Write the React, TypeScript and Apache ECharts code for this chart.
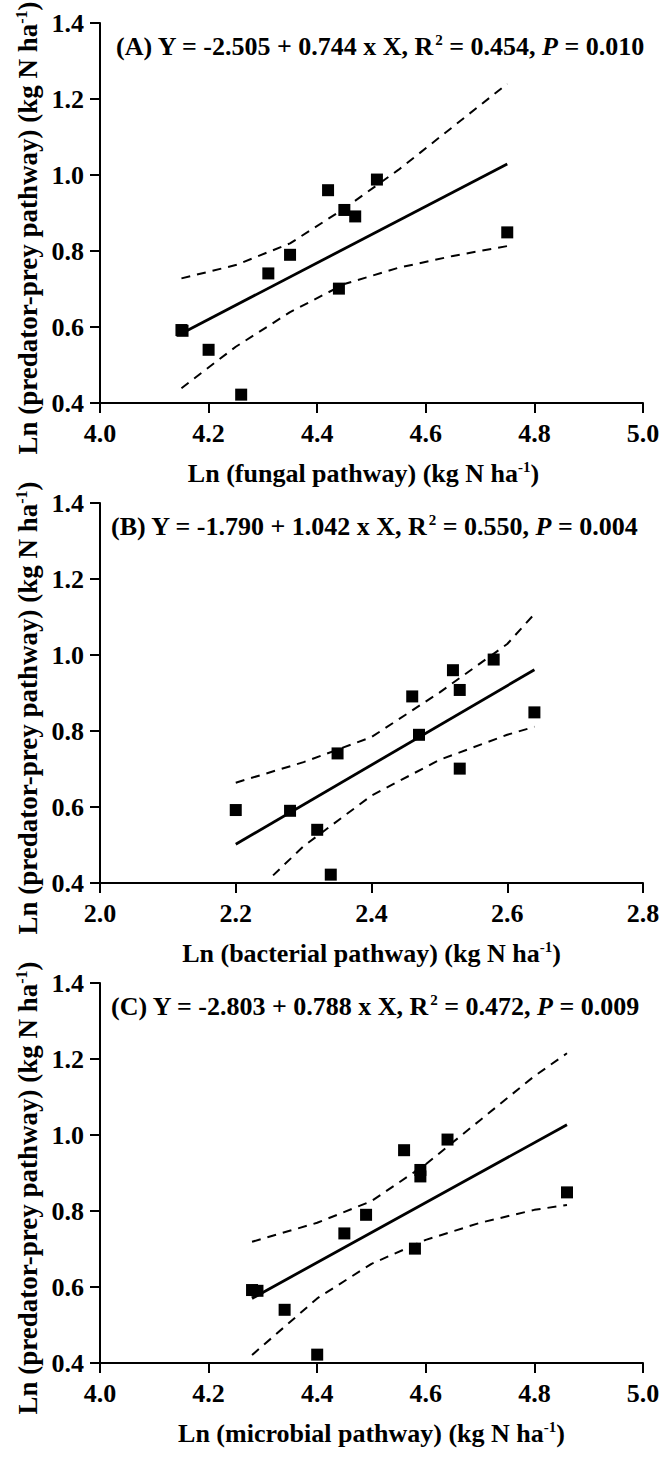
import { useEffect, useRef } from "react";
import * as echarts from "echarts";

// ---- data ----
const predatorPrey = [0.592, 0.590, 0.540, 0.422, 0.741, 0.790, 0.960, 0.908, 0.891, 0.988, 0.701, 0.849];
const fungal = [4.15, 4.152, 4.20, 4.26, 4.31, 4.35, 4.42, 4.45, 4.47, 4.51, 4.44, 4.75];
const bacterial = [2.20, 2.28, 2.32, 2.34, 2.35, 2.47, 2.52, 2.53, 2.46, 2.58, 2.53, 2.64];
const microbial = [4.28, 4.29, 4.34, 4.40, 4.45, 4.49, 4.56, 4.59, 4.59, 4.64, 4.58, 4.86];

// fitted regression lines (end points)
const fitAX = [4.15, 4.75];
const fitAY = [0.583, 1.029];
const fitBX = [2.20, 2.64];
const fitBY = [0.502, 0.961];
const fitCX = [4.28, 4.86];
const fitCY = [0.570, 1.027];

// 95% confidence bands
const bandAX = [4.15, 4.25, 4.35, 4.45, 4.55, 4.65, 4.75];
const bandAUpper = [0.728, 0.763, 0.820, 0.912, 1.014, 1.127, 1.240];
const bandALower = [0.439, 0.548, 0.639, 0.713, 0.756, 0.787, 0.813];

const bandBUpperX = [2.20, 2.30, 2.40, 2.50, 2.60, 2.64];
const bandBUpper = [0.664, 0.718, 0.784, 0.901, 1.029, 1.108];
const bandBLowerX = [2.255, 2.30, 2.40, 2.50, 2.60, 2.64];
const bandBLower = [0.420, 0.497, 0.630, 0.724, 0.790, 0.811];

const bandCX = [4.28, 4.40, 4.50, 4.60, 4.70, 4.80, 4.86];
const bandCUpper = [0.719, 0.769, 0.826, 0.923, 1.039, 1.155, 1.215];
const bandCLower = [0.421, 0.570, 0.661, 0.724, 0.769, 0.803, 0.816];

// axes
const yRange = [0.4, 1.4];
const xRangeA = [4.0, 5.0];
const xRangeB = [2.0, 2.8];
const xRangeC = [4.0, 5.0];
const tickStep = 0.2;

// texts
const panelLabels = ["(A)", "(B)", "(C)"];
const intercepts = ["-2.505", "-1.790", "-2.803"];
const slopes = ["0.744", "1.042", "0.788"];
const r2s = ["0.454", "0.550", "0.472"];
const pvals = ["0.010", "0.004", "0.009"];
const xNames = ["fungal", "bacterial", "microbial"];
const yTitle = "Ln (predator-prey pathway) (kg N ha";

const FONT = "'Liberation Serif', 'Times New Roman', serif";

const zip = (xs: number[], ys: number[]) => xs.map((x, i) => [x, ys[i]]);

export default function App() {
  const ref = useRef<HTMLDivElement>(null);

  useEffect(() => {
    document.body.style.margin = "0";
    if (!ref.current) return;
    const chart = echarts.init(ref.current, undefined, { renderer: "svg" });

    const tops = [23, 503, 983];
    const xRanges = [xRangeA, xRangeB, xRangeC];
    const xs = [fungal, bacterial, microbial];

    const baseText = { fontFamily: FONT, fontWeight: "bold" as const, color: "#000" };
    const rich = {
      b: { ...baseText, fontSize: 26, lineHeight: 28 },
      i: { ...baseText, fontSize: 26, lineHeight: 28, fontStyle: "italic" as const },
      sup: { ...baseText, fontSize: 15, lineHeight: 15, verticalAlign: "top" as const },
    };
    const gBase = { fontFamily: FONT, fontWeight: "bold" as const, fill: "#000" };
    const richY = {
      b: { ...gBase, fontSize: 27, lineHeight: 29 },
      sup: { ...gBase, fontSize: 16, lineHeight: 16, verticalAlign: "top" as const },
    };

    const grid = tops.map((t) => ({
      left: 100,
      width: 543,
      top: t,
      height: 380,
      outerBoundsMode: "none",
      containLabel: false,
    }));

    const xAxis = xRanges.map((r, i) => ({
      type: "value",
      gridIndex: i,
      min: r[0],
      max: r[1],
      interval: tickStep,
      axisLine: { show: true, onZero: false, lineStyle: { color: "#000", width: 2 } },
      axisTick: { show: true, length: 10, lineStyle: { color: "#000", width: 2 } },
      axisLabel: {
        margin: 17,
        fontSize: 26,
        fontWeight: "bold",
        fontFamily: FONT,
        color: "#000",
        formatter: (v: number) => v.toFixed(1),
      },
      splitLine: { show: false },
      name: `{b|Ln (${xNames[i]} pathway) (kg N ha}{sup|-1}{b|)}`,
      nameLocation: "middle",
      nameGap: 56,
      nameTextStyle: { rich, padding: i === 0 ? [0, 16, 0, 0] : [0, 0, 0, 0] },
    }));

    const yAxis = tops.map((_, i) => ({
      type: "value",
      gridIndex: i,
      min: yRange[0],
      max: yRange[1],
      interval: tickStep,
      axisLine: { show: true, onZero: false, lineStyle: { color: "#000", width: 2 } },
      axisTick: { show: true, length: 10, lineStyle: { color: "#000", width: 2 } },
      axisLabel: {
        margin: 16,
        fontSize: 26,
        fontWeight: "bold",
        fontFamily: FONT,
        color: "#000",
        formatter: (v: number) => v.toFixed(1),
      },
      splitLine: { show: false },
    }));

    const title = tops.map((t, i) => ({
      text: `{b|${panelLabels[i]} Y = ${intercepts[i]} + ${slopes[i]} x X, R}{sup|2}{b| = ${r2s[i]}, }{i|P}{b| = ${pvals[i]}}`,
      left: i === 0 ? 116 : 111,
      top: t + 9,
      padding: 0,
      textStyle: { rich },
    }));

    const graphic = tops.map((t) => ({
      type: "text",
      x: 28,
      y: t + 205,
      rotation: Math.PI / 2,
      style: {
        text: `{b|${yTitle}}{sup|-1}{b|)}`,
        align: "center",
        verticalAlign: "middle",
        rich: richY,
      },
    }));

    const fits = [zip(fitAX, fitAY), zip(fitBX, fitBY), zip(fitCX, fitCY)];
    const uppers = [zip(bandAX, bandAUpper), zip(bandBUpperX, bandBUpper), zip(bandCX, bandCUpper)];
    const lowers = [zip(bandAX, bandALower), zip(bandBLowerX, bandBLower), zip(bandCX, bandCLower)];

    const series: any[] = [];
    for (let i = 0; i < 3; i++) {
      const dashed = { color: "#000", width: 2, type: [9, 7] };
      series.push({
        type: "line",
        xAxisIndex: i,
        yAxisIndex: i,
        data: uppers[i],
        symbol: "none",
        lineStyle: dashed,
        z: 2,
      });
      series.push({
        type: "line",
        xAxisIndex: i,
        yAxisIndex: i,
        data: lowers[i],
        symbol: "none",
        lineStyle: dashed,
        z: 2,
      });
      series.push({
        type: "line",
        xAxisIndex: i,
        yAxisIndex: i,
        data: fits[i],
        symbol: "none",
        lineStyle: { color: "#000", width: 2.8 },
        z: 3,
      });
      series.push({
        type: "scatter",
        xAxisIndex: i,
        yAxisIndex: i,
        data: zip(xs[i], predatorPrey),
        symbol: "rect",
        symbolSize: 12,
        itemStyle: { color: "#000", opacity: 1 },
        z: 4,
      });
    }

    chart.setOption({
      animation: false,
      backgroundColor: "#fff",
      title,
      grid,
      xAxis,
      yAxis,
      graphic,
      series,
    });

    return () => chart.dispose();
  }, []);

  return <div ref={ref} style={{ width: 664, height: 1457 }} />;
}
